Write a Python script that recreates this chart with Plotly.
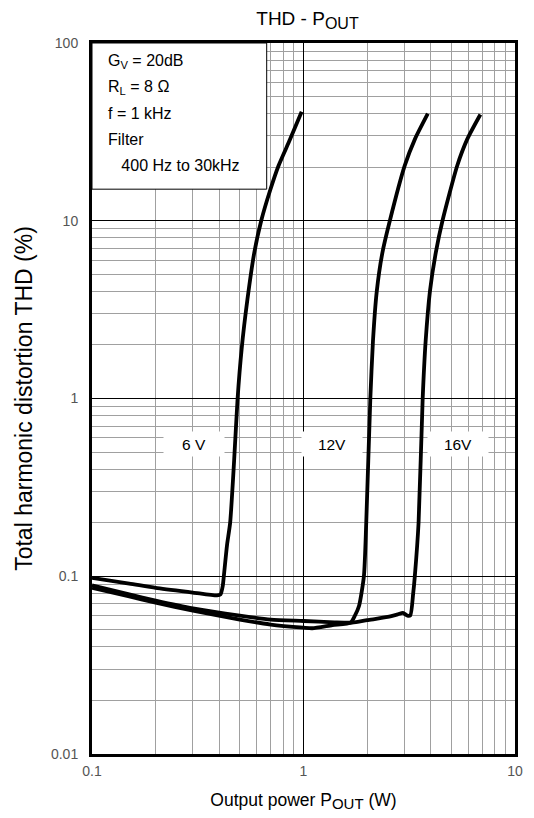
import plotly.graph_objects as go
import math

# ---- data ----
p_6v = [0.1, 0.15, 0.2, 0.3, 0.39, 0.405, 0.415, 0.42, 0.435, 0.45, 0.47, 0.488, 0.51, 0.543, 0.585, 0.631, 0.695, 0.762, 0.864, 0.98]
thd_6v = [0.098, 0.091, 0.086, 0.081, 0.078, 0.079, 0.088, 0.1, 0.15, 0.2, 0.45, 1.0, 1.9, 3.6, 6.6, 10, 14.8, 20.4, 28.7, 41]

p_12v = [0.1, 0.15, 0.2, 0.3, 0.5, 0.7, 1.0, 1.1, 1.37, 1.67, 1.75, 1.83, 1.93, 1.98, 2.07, 2.13, 2.22, 2.36, 2.56, 3.01, 3.36, 3.87]
thd_12v = [0.086, 0.077, 0.071, 0.064, 0.057, 0.0535, 0.0514, 0.051, 0.0531, 0.0548, 0.06, 0.068, 0.1, 0.2, 1.0, 2.1, 4.0, 6.6, 10, 20.4, 28.7, 40]

p_16v = [0.1, 0.15, 0.2, 0.3, 0.5, 0.7, 1.0, 1.4, 1.7, 2.0, 2.5, 2.8, 2.95, 3.1, 3.2, 3.3, 3.36, 3.5, 3.66, 3.78, 3.96, 4.22, 4.54, 5.33, 5.94, 6.86]
thd_16v = [0.089, 0.079, 0.073, 0.066, 0.060, 0.057, 0.056, 0.055, 0.0548, 0.0566, 0.059, 0.0611, 0.0622, 0.060, 0.0603, 0.08, 0.1, 0.2, 1.0, 2.1, 4.0, 6.6, 10, 20.4, 28.7, 39.6]

x_ticks = [0.1, 1, 10]
x_tick_labels = ["0.1", "1", "10"]
y_ticks = [0.01, 0.1, 1, 10, 100]
y_tick_labels = ["0.01", "0.1", "1", "10", "100"]

curve_labels = ["6 V", "12V", "16V"]
curve_label_x = [0.305, 1.36, 5.35]
curve_label_y = 0.556

cond_lines = ["G<sub>V</sub> = 20dB", "R<sub>L</sub> = 8 Ω", "f = 1 kHz", "Filter", "   400 Hz to 30kHz"]

FONT = "Arial, Liberation Sans, sans-serif"


def sub(txt, px):
    return '<sub><span style="font-size:%dpx">%s</span></sub>' % (px, txt)


fig = go.Figure()
for xs, ys in [(p_6v, thd_6v), (p_12v, thd_12v), (p_16v, thd_16v)]:
    fig.add_trace(go.Scatter(x=xs, y=ys, mode="lines",
                             line=dict(color="black", width=3.8, shape="spline", smoothing=0.6),
                             showlegend=False, hoverinfo="skip"))

W, H = 534, 818
ml, mr, mt, mb = 92, 11, 43, 60

fig.update_layout(
    width=W, height=H,
    margin=dict(l=ml, r=mr, t=mt, b=mb),
    paper_bgcolor="white", plot_bgcolor="white",
    font=dict(family=FONT, color="black"),
    title=dict(text="THD - P" + sub("OUT", 16), x=(ml + (W - mr - ml) / 2) / W, xanchor="center",
               y=1 - 18 / H, yanchor="middle", font=dict(size=19, color="black")),
)

fig.update_xaxes(
    type="log", range=[-1, 1],
    tickvals=x_ticks, ticktext=x_tick_labels,
    tickfont=dict(size=14, color="#555555"),
    ticks="outside", ticklen=2, tickcolor="rgba(0,0,0,0)",
    showline=True, mirror=True, linecolor="black", linewidth=3,
    showgrid=True, gridcolor="black", gridwidth=1,
    minor=dict(dtick="D1", showgrid=True, gridcolor="#a0a0a0", gridwidth=1, ticks=""),
    title=dict(text="Output power P" + sub("OUT", 15) + " (W)", font=dict(size=17.5, color="black"), standoff=16),
    zeroline=False,
)
fig.update_yaxes(
    type="log", range=[-2, 2],
    tickvals=y_ticks, ticktext=y_tick_labels,
    tickfont=dict(size=14, color="#555555"),
    ticks="outside", ticklen=8, tickcolor="rgba(0,0,0,0)",
    showline=True, mirror=True, linecolor="black", linewidth=3,
    showgrid=True, gridcolor="black", gridwidth=1,
    minor=dict(dtick="D1", showgrid=True, gridcolor="#a0a0a0", gridwidth=1, ticks=""),
    title=dict(text="Total harmonic distortion THD (%)", font=dict(size=23, color="black"), standoff=12),
    zeroline=False,
)

# conditions box
pw = W - ml - mr
ph = H - mt - mb
fig.add_shape(type="rect", xref="paper", yref="paper",
              x0=0, x1=(270 - ml) / pw, y0=(H - mb - 190) / ph, y1=1,
              fillcolor="white", line=dict(color="black", width=1), layer="above")

cond_y_px = [62, 88, 114, 140, 166]
for txt, ypx in zip(cond_lines, cond_y_px):
    fig.add_annotation(xref="paper", yref="paper", x=(106 - ml) / pw, y=(H - mb - ypx) / ph,
                       text=txt, showarrow=False, xanchor="left", yanchor="middle",
                       font=dict(size=16, color="black"))

for lab, lx in zip(curve_labels, curve_label_x):
    fig.add_annotation(x=math.log10(lx), y=math.log10(curve_label_y), text=lab,
                       showarrow=False, bgcolor="white", width=58, height=22,
                       font=dict(size=15.5, color="black"))

fig.write_html("out.html")
